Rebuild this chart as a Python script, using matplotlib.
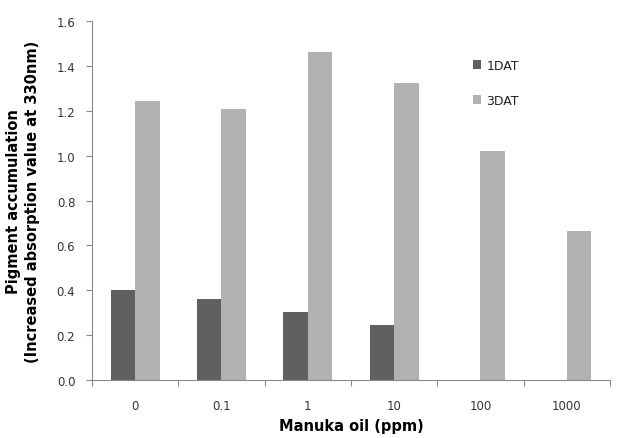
import numpy as np
import matplotlib.pyplot as plt
from matplotlib.ticker import FixedLocator, NullFormatter, FixedFormatter

# data
doses = ['0', '0.1', '1', '10', '100', '1000']
dat1 = [0.40, 0.36, 0.305, 0.245, 0, 0]
dat3 = [1.245, 1.21, 1.46, 1.325, 1.02, 0.665]

# figure
fig = plt.figure(figsize=(6.37, 4.39), dpi=100)
ax = fig.add_axes([0.1444, 0.1321, 0.8132, 0.8178])

x = np.arange(len(doses))
w = 0.285
ax.bar(x - w / 2, dat1, width=w, color='#606060', label='1DAT')
ax.bar(x + w / 2, dat3, width=w, color='#b2b2b2', label='3DAT')

ax.set_xlim(-0.5, len(doses) - 0.5)
ax.set_ylim(0, 1.6)
ax.set_yticks(np.arange(0, 1.61, 0.2))
ax.set_yticklabels([f'{v:.1f}' for v in np.arange(0, 1.61, 0.2)])

# ticks at category boundaries, labels at centers
ax.xaxis.set_major_locator(FixedLocator(np.arange(-0.5, len(doses), 1.0)))
ax.xaxis.set_major_formatter(NullFormatter())
ax.xaxis.set_minor_locator(FixedLocator(x))
ax.xaxis.set_minor_formatter(FixedFormatter(doses))
ax.tick_params(axis='x', which='minor', length=0, pad=14, labelsize=8.5, labelcolor='#333333')
ax.tick_params(axis='x', which='major', length=4, color='#888888', direction='out')
ax.tick_params(axis='y', length=4, color='#888888', labelsize=8.5, labelcolor='#333333', pad=8)

for s in ['top', 'right']:
    ax.spines[s].set_visible(False)
for s in ['left', 'bottom']:
    ax.spines[s].set_color('#888888')

ax.set_xlabel('Manuka oil (ppm)', fontsize=10.5, fontweight='bold', labelpad=4)
ax.set_ylabel('Pigment accumulation\n(Increased absorption value at 330nm)',
              fontsize=10.5, fontweight='bold', labelpad=12, linespacing=1.35)

ax.legend(loc='upper left', bbox_to_anchor=(0.713, 0.925), frameon=False,
          fontsize=9, handlelength=0.7, handleheight=0.7, labelspacing=1.75,
          handletextpad=0.4, labelcolor='#222222')

fig.savefig('out.png', dpi=100)
